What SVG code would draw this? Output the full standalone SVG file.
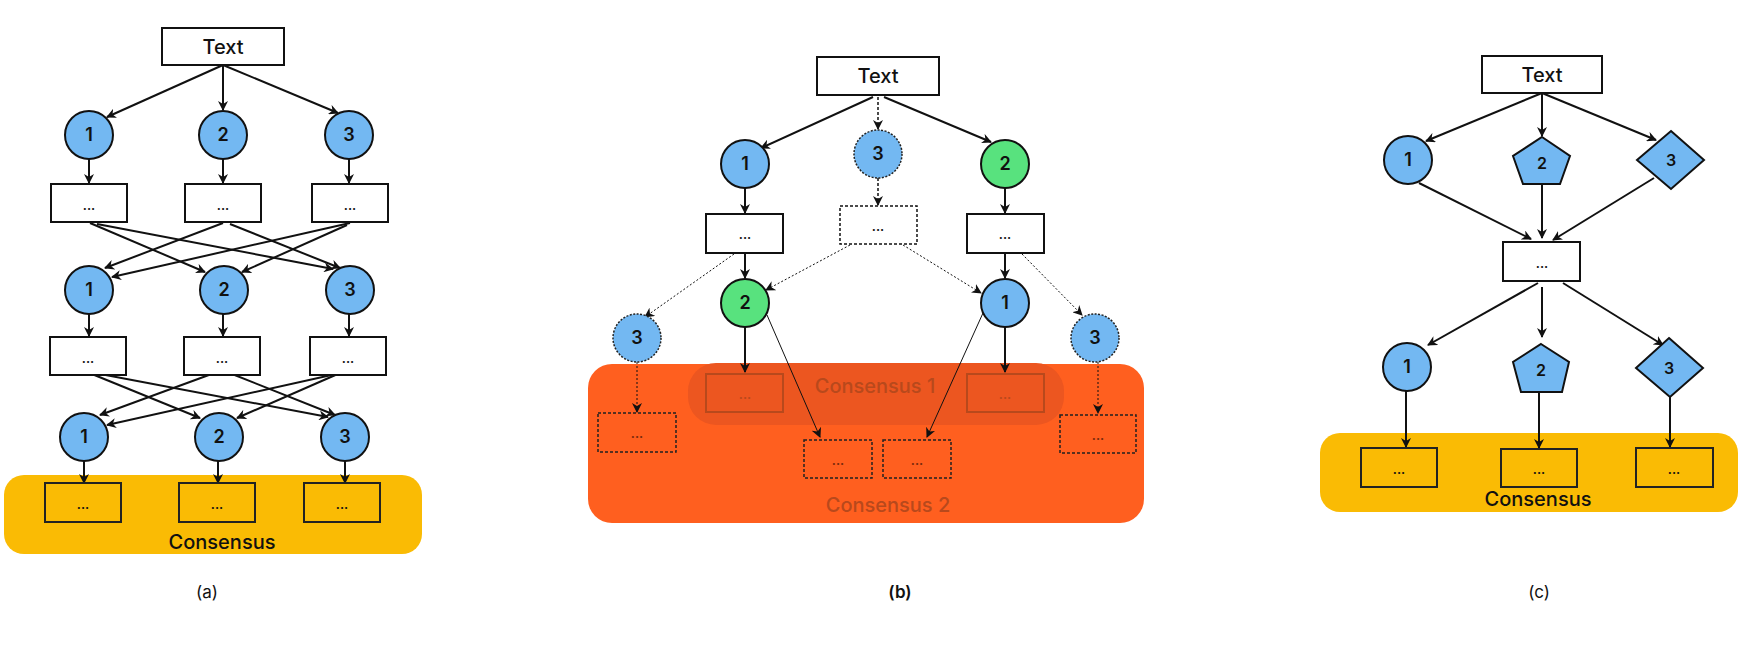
<svg xmlns="http://www.w3.org/2000/svg" width="1744" height="650" viewBox="0 0 1744 650">
<style>
text{font-family:Inter,"Liberation Sans",sans-serif;text-anchor:middle;fill:#111}
.box{fill:#fff;stroke:#111;stroke-width:2}
.cbox{fill:none;stroke:#222;stroke-width:2}
.dbox{fill:none;stroke:#222;stroke-width:1.5;stroke-dasharray:3 2}
.blue{fill:#73B8F2;stroke:#111;stroke-width:2}
.bluedot{fill:#73B8F2;stroke:#222;stroke-width:1.5;stroke-dasharray:2 1.5}
.green{fill:#58E27E;stroke:#111;stroke-width:2}
.ln{stroke:#111;stroke-width:2;fill:none;marker-end:url(#ah)}
.thin{stroke:#111;stroke-width:1;fill:none;marker-end:url(#ah)}
.dash{stroke:#111;stroke-width:1.5;fill:none;stroke-dasharray:3 2;marker-end:url(#ah)}
.dot{stroke:#111;stroke-width:1;fill:none;stroke-dasharray:2 2;marker-end:url(#ah)}
.lbl{font-size:20px;font-weight:500}
.num{font-size:18px;font-weight:600}
.ell{font-size:13px;font-weight:600}
.cap{font-size:17px}
.con{font-size:20px;font-weight:500}
.oc{fill:#B8491C}
</style>
<defs>
<marker id="ah" markerUnits="userSpaceOnUse" markerWidth="10" markerHeight="10" viewBox="0 0 10 10" refX="9" refY="5" orient="auto">
<path d="M0,0 L10,5 L0,10 L3,5 Z" fill="#111"/>
</marker>
</defs>

<!-- backgrounds -->
<g id="bands">
<rect x="4" y="475" width="418" height="79" rx="20" fill="#FABB04"/>
<rect x="588" y="364" width="556" height="159" rx="24" fill="#FF5F1F"/>
<rect x="688" y="363" width="376" height="62" rx="28" fill="#EC5620"/>
<rect x="1320" y="433" width="418" height="79" rx="20" fill="#FABB04"/>
</g>

<g id="connectors">
<!-- (a) -->
<line class="ln" x1="223" y1="65" x2="107" y2="117"/>
<line class="ln" x1="223" y1="65" x2="223" y2="110"/>
<line class="ln" x1="223" y1="65" x2="338" y2="113"/>
<line class="ln" x1="89" y1="159" x2="89" y2="183"/>
<line class="ln" x1="223" y1="159" x2="223" y2="183"/>
<line class="ln" x1="349" y1="159" x2="349" y2="183"/>
<line class="ln" x1="90" y1="223" x2="205" y2="272"/>
<line class="ln" x1="97" y1="224" x2="333" y2="269"/>
<line class="ln" x1="223" y1="223" x2="105" y2="268"/>
<line class="ln" x1="230" y1="224" x2="340" y2="268"/>
<line class="ln" x1="350" y1="223" x2="112" y2="277"/>
<line class="ln" x1="347" y1="225" x2="242" y2="272"/>
<line class="ln" x1="89" y1="314" x2="89" y2="336"/>
<line class="ln" x1="223" y1="314" x2="223" y2="336"/>
<line class="ln" x1="349" y1="314" x2="349" y2="336"/>
<line class="ln" x1="87" y1="372" x2="200" y2="418"/>
<line class="ln" x1="95" y1="373" x2="328" y2="417"/>
<line class="ln" x1="217" y1="372" x2="100" y2="415"/>
<line class="ln" x1="227" y1="372" x2="335" y2="415"/>
<line class="ln" x1="345" y1="372" x2="107" y2="425"/>
<line class="ln" x1="340" y1="373" x2="237" y2="418"/>
<line class="ln" x1="84" y1="461" x2="84" y2="483"/>
<line class="ln" x1="218" y1="461" x2="218" y2="483"/>
<line class="ln" x1="345" y1="461" x2="345" y2="483"/>
<!-- (b) -->
<line class="ln" x1="873" y1="97" x2="761" y2="148"/>
<line class="dash" x1="878" y1="97" x2="878" y2="129"/>
<line class="ln" x1="884" y1="97" x2="991" y2="142"/>
<line class="ln" x1="745" y1="188" x2="745" y2="213"/>
<line class="dash" x1="878" y1="178" x2="878" y2="205"/>
<line class="ln" x1="1005" y1="188" x2="1005" y2="213"/>
<line class="ln" x1="745" y1="253" x2="745" y2="278"/>
<line class="dot" x1="734" y1="254" x2="645" y2="317"/>
<line class="dot" x1="850" y1="245" x2="766" y2="290"/>
<line class="dot" x1="903" y1="245" x2="981" y2="293"/>
<line class="ln" x1="1005" y1="253" x2="1005" y2="278"/>
<line class="dot" x1="1022" y1="254" x2="1082" y2="315"/>
<line class="ln" x1="745" y1="327" x2="745" y2="372"/>
<line class="thin" x1="767" y1="315" x2="820" y2="437"/>
<line class="ln" x1="1005" y1="327" x2="1005" y2="372"/>
<line class="thin" x1="983" y1="313" x2="927" y2="437"/>
<line class="dot" x1="637" y1="362" x2="637" y2="412"/>
<line class="dot" x1="1098" y1="362" x2="1098" y2="413"/>
<!-- (c) -->
<line class="ln" x1="1542" y1="93" x2="1426" y2="141"/>
<line class="ln" x1="1542" y1="93" x2="1542" y2="136"/>
<line class="ln" x1="1542" y1="93" x2="1656" y2="140"/>
<line class="ln" x1="1419" y1="183" x2="1531" y2="239"/>
<line class="ln" x1="1542" y1="185" x2="1542" y2="238"/>
<line class="ln" x1="1654" y1="178" x2="1553" y2="240"/>
<line class="ln" x1="1538" y1="283" x2="1428" y2="345"/>
<line class="ln" x1="1542" y1="287" x2="1542" y2="337"/>
<line class="ln" x1="1563" y1="283" x2="1663" y2="345"/>
<line class="ln" x1="1406" y1="391" x2="1406" y2="447"/>
<line class="ln" x1="1539" y1="392" x2="1539" y2="448"/>
<line class="ln" x1="1670" y1="397" x2="1670" y2="447"/>
</g>

<!-- (a) nodes -->
<g id="a-text"><rect class="box" x="162" y="28" width="122" height="37"/><text class="lbl" x="223" y="54">Text</text></g>
<g id="a-c11"><circle class="blue" cx="89" cy="135" r="24"/><text class="num" x="89" y="141">1</text></g>
<g id="a-c12"><circle class="blue" cx="223" cy="135" r="24"/><text class="num" x="223" y="141">2</text></g>
<g id="a-c13"><circle class="blue" cx="349" cy="135" r="24"/><text class="num" x="349" y="141">3</text></g>
<g id="a-b11"><rect class="box" x="51" y="184" width="76" height="38"/><text class="ell" x="89" y="210">...</text></g>
<g id="a-b12"><rect class="box" x="185" y="184" width="76" height="38"/><text class="ell" x="223" y="210">...</text></g>
<g id="a-b13"><rect class="box" x="312" y="184" width="76" height="38"/><text class="ell" x="350" y="210">...</text></g>
<g id="a-c21"><circle class="blue" cx="89" cy="290" r="24"/><text class="num" x="89" y="296">1</text></g>
<g id="a-c22"><circle class="blue" cx="224" cy="290" r="24"/><text class="num" x="224" y="296">2</text></g>
<g id="a-c23"><circle class="blue" cx="350" cy="290" r="24"/><text class="num" x="350" y="296">3</text></g>
<g id="a-b21"><rect class="box" x="50" y="337" width="76" height="38"/><text class="ell" x="88" y="363">...</text></g>
<g id="a-b22"><rect class="box" x="184" y="337" width="76" height="38"/><text class="ell" x="222" y="363">...</text></g>
<g id="a-b23"><rect class="box" x="310" y="337" width="76" height="38"/><text class="ell" x="348" y="363">...</text></g>
<g id="a-c31"><circle class="blue" cx="84" cy="437" r="24"/><text class="num" x="84" y="443">1</text></g>
<g id="a-c32"><circle class="blue" cx="219" cy="437" r="24"/><text class="num" x="219" y="443">2</text></g>
<g id="a-c33"><circle class="blue" cx="345" cy="437" r="24"/><text class="num" x="345" y="443">3</text></g>
<g id="a-cons">
<rect class="cbox" x="45" y="483" width="76" height="39"/><text class="ell" x="83" y="509">...</text>
<rect class="cbox" x="179" y="483" width="76" height="39"/><text class="ell" x="217" y="509">...</text>
<rect class="cbox" x="304" y="483" width="76" height="39"/><text class="ell" x="342" y="509">...</text>
<text class="con" x="222" y="549">Consensus</text>
</g>
<text class="cap" x="207" y="598">(a)</text>

<!-- (b) nodes -->
<g id="b-text"><rect class="box" x="817" y="57" width="122" height="38"/><text class="lbl" x="878" y="83">Text</text></g>
<g id="b-c1"><circle class="blue" cx="745" cy="164" r="24"/><text class="num" x="745" y="170">1</text></g>
<g id="b-c3"><circle class="bluedot" cx="878" cy="154" r="24"/><text class="num" x="878" y="160">3</text></g>
<g id="b-c2"><circle class="green" cx="1005" cy="164" r="24"/><text class="num" x="1005" y="170">2</text></g>
<g id="b-b1"><rect class="box" x="706" y="214" width="77" height="39"/><text class="ell" x="745" y="239">...</text></g>
<g id="b-b3"><rect class="box" style="stroke-dasharray:3 2;stroke-width:1.5" x="840" y="206" width="77" height="38"/><text class="ell" x="878" y="231">...</text></g>
<g id="b-b2"><rect class="box" x="967" y="214" width="77" height="39"/><text class="ell" x="1005" y="239">...</text></g>
<g id="b-g2"><circle class="green" cx="745" cy="303" r="24"/><text class="num" x="745" y="309">2</text></g>
<g id="b-u1"><circle class="blue" cx="1005" cy="303" r="24"/><text class="num" x="1005" y="309">1</text></g>
<g id="b-l3"><circle class="bluedot" cx="637" cy="338" r="24"/><text class="num" x="637" y="344">3</text></g>
<g id="b-r3"><circle class="bluedot" cx="1095" cy="338" r="24"/><text class="num" x="1095" y="344">3</text></g>
<g id="b-cons1">
<rect x="706" y="374" width="77" height="38" fill="none" stroke="#B8491C" stroke-width="2"/><text class="ell oc" x="745" y="399">...</text>
<rect x="967" y="374" width="77" height="38" fill="none" stroke="#B8491C" stroke-width="2"/><text class="ell oc" x="1005" y="399">...</text>
<text class="con oc" x="875" y="393">Consensus 1</text>
</g>
<g id="b-cons2">
<rect class="dbox" x="598" y="413" width="78" height="39"/><text class="ell" x="637" y="438" style="fill:#7a2a0c">...</text>
<rect class="dbox" x="804" y="440" width="68" height="38"/><text class="ell" x="838" y="465" style="fill:#7a2a0c">...</text>
<rect class="dbox" x="883" y="440" width="68" height="38"/><text class="ell" x="917" y="465" style="fill:#7a2a0c">...</text>
<rect class="dbox" x="1060" y="415" width="76" height="38"/><text class="ell" x="1098" y="440" style="fill:#7a2a0c">...</text>
<text class="con oc" x="888" y="512">Consensus 2</text>
</g>
<text class="cap" x="900" y="598" style="font-weight:600">(b)</text>

<!-- (c) nodes -->
<g id="c-text"><rect class="box" x="1482" y="56" width="120" height="37"/><text class="lbl" x="1542" y="82">Text</text></g>
<g id="c-c1"><circle class="blue" cx="1408" cy="160" r="24"/><text class="num" x="1408" y="166">1</text></g>
<g id="c-p2"><polygon class="blue" points="1542,137 1570,156 1560,184 1523,184 1513,156"/><text class="num" style="font-size:16px" x="1542" y="169">2</text></g>
<g id="c-d3"><polygon class="blue" points="1671,131 1704,160 1671,189 1637,160"/><text class="num" style="font-size:16px" x="1671" y="166">3</text></g>
<g id="c-mid"><rect class="box" x="1503" y="242" width="77" height="39"/><text class="ell" x="1542" y="268">...</text></g>
<g id="c-c1b"><circle class="blue" cx="1407" cy="367" r="24"/><text class="num" x="1407" y="373">1</text></g>
<g id="c-p2b"><polygon class="blue" points="1541,344 1569,362 1562,392 1521,392 1513,362"/><text class="num" style="font-size:16px" x="1541" y="376">2</text></g>
<g id="c-d3b"><polygon class="blue" points="1669,338 1703,368 1670,397 1636,368"/><text class="num" style="font-size:16px" x="1669" y="374">3</text></g>
<g id="c-cons">
<rect class="cbox" x="1361" y="448" width="76" height="39"/><text class="ell" x="1399" y="474">...</text>
<rect class="cbox" x="1501" y="449" width="76" height="38"/><text class="ell" x="1539" y="474">...</text>
<rect class="cbox" x="1636" y="448" width="77" height="39"/><text class="ell" x="1674" y="474">...</text>
<text class="con" x="1538" y="506">Consensus</text>
</g>
<text class="cap" x="1539" y="598">(c)</text>
</svg>
